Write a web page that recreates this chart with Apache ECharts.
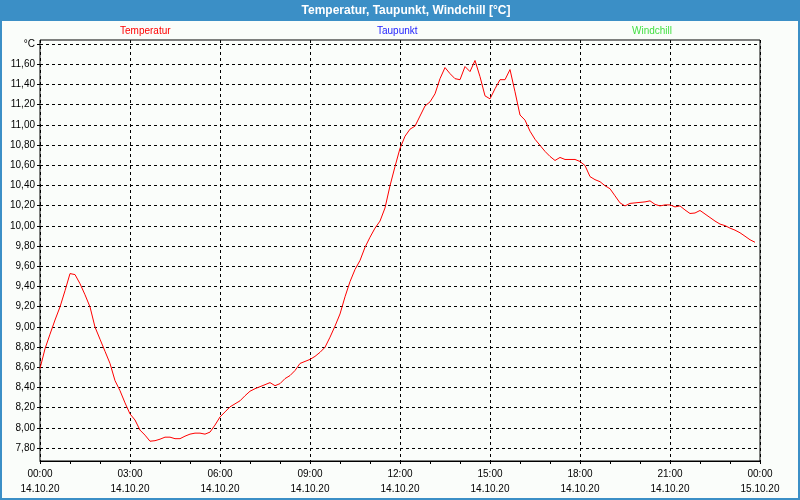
<!DOCTYPE html>
<html>
<head>
<meta charset="utf-8">
<script src="https://cdn.jsdelivr.net/npm/echarts@6/dist/echarts.min.js"></script>
<style>
html,body{margin:0;padding:0;background:#fafdfa;}
#chart{width:800px;height:500px;}
</style>
</head>
<body>
<div id="chart"></div>
<script>
// ---- data ----
const chartTitle = 'Temperatur, Taupunkt, Windchill [°C]';
const seriesNames = ['Temperatur', 'Taupunkt', 'Windchill'];
const seriesColors = ['#ff0000', '#1c1cff', '#44e044'];
const xTickTimes = ['00:00', '03:00', '06:00', '09:00', '12:00', '15:00', '18:00', '21:00', '00:00'];
const xTickDates = ['14.10.20', '14.10.20', '14.10.20', '14.10.20', '14.10.20', '14.10.20', '14.10.20', '14.10.20', '15.10.20'];
const sampleStepMinutes = 10;
const temperatur = [
  8.59, 8.785, 8.93, 9.07, 9.20, 9.36, 9.53, 9.52, 9.43, 9.32,
  9.20, 9.00, 8.88, 8.76, 8.64, 8.47, 8.37, 8.25, 8.14, 8.08,
  7.98, 7.93, 7.87, 7.875, 7.89, 7.91, 7.91, 7.895, 7.895, 7.92,
  7.94, 7.95, 7.95, 7.94, 7.96, 8.03, 8.11, 8.16, 8.21, 8.24,
  8.27, 8.32, 8.365, 8.39, 8.41, 8.43, 8.45, 8.42, 8.44, 8.49,
  8.52, 8.57, 8.64, 8.66, 8.68, 8.71, 8.75, 8.80, 8.90, 9.01,
  9.13, 9.30, 9.45, 9.57, 9.66, 9.79, 9.89, 9.98, 10.05, 10.18,
  10.40, 10.59, 10.77, 10.89, 10.96, 10.99, 11.09, 11.19, 11.23, 11.31,
  11.46, 11.57, 11.51, 11.46, 11.45, 11.58, 11.53, 11.64, 11.48, 11.29,
  11.26, 11.36, 11.45, 11.45, 11.55, 11.33, 11.10, 11.05, 10.94, 10.86,
  10.80, 10.74, 10.69, 10.65, 10.68, 10.66, 10.66, 10.66, 10.64, 10.60,
  10.49, 10.46, 10.44, 10.40, 10.37, 10.30, 10.23, 10.20, 10.225, 10.23,
  10.235, 10.24, 10.25, 10.215, 10.20, 10.21, 10.21, 10.19, 10.20, 10.16,
  10.125, 10.13, 10.155, 10.12, 10.085, 10.05, 10.02, 10.005, 9.98, 9.96,
  9.934, 9.90, 9.865, 9.84
];
const taupunkt = [];
const windchill = [];

// ---- chart ----
const FONT = 'Liberation Sans';
const chart = echarts.init(document.getElementById('chart'), null, {renderer: 'canvas'});
const toPairs = arr => arr.map((v, k) => [k * sampleStepMinutes / 60, v]);
const dash = [3, 3];

const option = {
  animation: false,
  backgroundColor: '#fafdfa',
  textStyle: {fontFamily: FONT},
  graphic: [
    {type: 'rect', shape: {x: 0, y: 0, width: 800, height: 21}, style: {fill: '#3b8fc6'}, z: 10},
    {type: 'text', x: 406, y: 11, style: {text: chartTitle, fill: '#ffffff', font: 'bold 12px "Liberation Sans Narrow", "Liberation Sans"', textAlign: 'center', textVerticalAlign: 'middle'}, z: 11},
    {type: 'rect', shape: {x: 1, y: 1, width: 798, height: 498}, style: {fill: 'none', stroke: '#3b8fc6', lineWidth: 2}, z: 12}
  ],
  legend: seriesNames.map((n, i) => ({
    data: [n],
    icon: 'none',
    itemWidth: 0,
    itemHeight: 0,
    itemGap: 0,
    selectedMode: false,
    left: [110, 367, 622][i],
    top: 21,
    textStyle: {color: seriesColors[i], fontSize: 10, fontFamily: FONT}
  })),
  grid: [
    {left: 40, top: 40, width: 720, height: 421, show: true, borderColor: '#000', borderWidth: 1, backgroundColor: 'transparent', containLabel: false},
    {left: 40, top: 44, width: 720, height: 404, show: false, containLabel: false}
  ],
  xAxis: [
    {
      gridIndex: 0, type: 'value', min: 0, max: 24, interval: 3,
      axisLine: {show: true, lineStyle: {color: '#000', width: 1}},
      axisTick: {show: true, length: 3, lineStyle: {color: '#000'}},
      minorTick: {show: true, splitNumber: 3, length: 3, lineStyle: {color: '#000'}},
      splitLine: {show: true, lineStyle: {color: '#000', type: dash, width: 1}},
      axisLabel: {
        color: '#000', fontSize: 10, fontFamily: FONT, lineHeight: 15, margin: 6,
        formatter: v => { const i = Math.round(v / 3); return xTickTimes[i] + '\n' + xTickDates[i]; }
      }
    },
    {gridIndex: 1, type: 'value', min: 0, max: 24, show: false}
  ],
  yAxis: [
    {gridIndex: 0, type: 'value', min: 7.674, max: 11.843, show: false},
    {
      gridIndex: 1, type: 'value', min: 7.8, max: 11.8, interval: 0.2,
      axisLine: {show: false},
      axisTick: {show: true, length: 3, lineStyle: {color: '#000'}},
      splitLine: {show: true, lineStyle: {color: '#000', type: dash, width: 1}},
      axisLabel: {
        color: '#000', fontSize: 10, fontFamily: FONT, margin: 5,
        formatter: v => (v > 11.79 ? '°C' : v.toFixed(2).replace('.', ','))
      }
    }
  ],
  series: [
    {name: seriesNames[0], type: 'line', xAxisIndex: 0, yAxisIndex: 0, data: toPairs(temperatur), showSymbol: false, symbol: 'none', color: seriesColors[0], lineStyle: {width: 1, color: seriesColors[0]}, z: 5},
    {name: seriesNames[1], type: 'line', xAxisIndex: 0, yAxisIndex: 0, data: toPairs(taupunkt), showSymbol: false, color: seriesColors[1]},
    {name: seriesNames[2], type: 'line', xAxisIndex: 0, yAxisIndex: 0, data: toPairs(windchill), showSymbol: false, color: seriesColors[2]}
  ]
};
chart.setOption(option);
</script>
</body>
</html>
